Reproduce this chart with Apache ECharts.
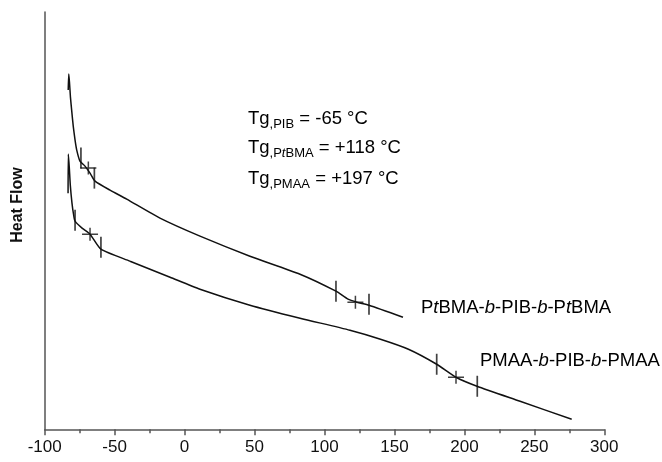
<!DOCTYPE html>
<html>
<head>
<meta charset="utf-8">
<script src="https://cdn.jsdelivr.net/npm/echarts@6/dist/echarts.min.js"></script>
<style>
  html, body { margin: 0; padding: 0; background: #fff; }
  #chart { width: 662px; height: 462px; }
</style>
</head>
<body>
<div id="chart"></div>
<script>
// temperature (°C) vs heat flow (arbitrary units)
const ptbmaCurve = [
  [-83.2, 339], [-82.8, 355], [-82.3, 347], [-81.6, 332], [-80.6, 317],
  [-79.6, 303], [-78.3, 289], [-77.1, 279], [-74.8, 268], [-71.2, 263],
  [-67.6, 256], [-64.0, 248], [-53.3, 239], [-41.4, 230], [-17.6, 211],
  [11.0, 193], [46.7, 173], [82.5, 155], [108.2, 138], [116.8, 130],
  [123.2, 127], [131.8, 124], [156.1, 112]
]
const pmaaCurve = [
  [-83.3, 236], [-83.1, 275], [-82.4, 261], [-81.7, 244], [-80.5, 226],
  [-79.4, 215], [-78.3, 208], [-73.3, 201], [-67.6, 195], [-59.8, 180],
  [-39.0, 168], [-10.4, 152], [11.0, 140], [46.7, 124], [82.5, 111],
  [118.2, 99], [140.0, 90], [160.0, 80], [180.2, 65], [194.0, 52],
  [209.0, 43], [239.8, 28], [276.7, 10]
]
// onset / end ticks and Tg crosses
const tickMarks = [
  [-74.1, 271], [-64.5, 251], [108.2, 138], [131.8, 125],
  [-78.3, 209], [-59.8, 182], [180.2, 65], [209.2, 43]
]
const tgMarks = [
  [-68.8, 261], [122.1, 127], [-67.6, 195], [194.0, 52]
]
const xTicks = { min: -100, max: 300, step: 50 }
const yRange = { min: 0, max: 417 }

const font = 'Liberation Sans, Arial, sans-serif'
const ink = '#111'

const chart = echarts.init(document.getElementById('chart'))

const mainTxt = { fontSize: 18.5, fontFamily: font, color: ink, lineHeight: 24 }
const subTxt = { fontSize: 13, fontFamily: font, color: ink, lineHeight: 10, verticalAlign: 'bottom' }
const subIt = Object.assign({}, subTxt, { fontStyle: 'italic' })
const it = Object.assign({}, mainTxt, { fontStyle: 'italic' })
const rich = { m: mainTxt, s: subTxt, si: subIt, i: it }

function txt(x, y, text, va) {
  return {
    type: 'text',
    x: x,
    y: y,
    style: { text: text, rich: rich, verticalAlign: va || 'top', align: 'left' }
  }
}

chart.setOption({
  animation: false,
  backgroundColor: '#fff',
  grid: { left: 44.7, right: 57.7, top: 12, bottom: 32.7 },
  xAxis: {
    type: 'value',
    min: xTicks.min,
    max: xTicks.max,
    interval: xTicks.step,
    axisLine: { show: true, onZero: false, lineStyle: { color: '#555', width: 1.5 } },
    axisTick: { show: true, length: 6, lineStyle: { color: '#555', width: 1.5 } },
    minorTick: { show: true, splitNumber: 2, length: 4, lineStyle: { color: '#555', width: 1.5 } },
    splitLine: { show: false },
    axisLabel: { fontSize: 17, fontFamily: font, color: ink, margin: 10 }
  },
  yAxis: {
    type: 'value',
    min: yRange.min,
    max: yRange.max,
    axisLine: { show: true, onZero: false, lineStyle: { color: '#555', width: 1.5 } },
    axisTick: { show: false },
    axisLabel: { show: false },
    splitLine: { show: false }
  },
  graphic: [
    {
      type: 'text',
      x: 18,
      y: 205,
      rotation: Math.PI / 2,
      style: {
        text: 'Heat Flow',
        fontSize: 16,
        fontWeight: 'bold',
        fontFamily: font,
        fill: ink,
        align: 'center',
        verticalAlign: 'middle'
      }
    },
    txt(248, 107, '{m|Tg}{s|,PIB}{m| = -65 °C}'),
    txt(248, 136, '{m|Tg}{s|,P}{si|t}{s|BMA}{m| = +118 °C}'),
    txt(248, 167, '{m|Tg}{s|,PMAA}{m| = +197 °C}'),
    txt(421, 308, '{m|P}{i|t}{m|BMA-}{i|b}{m|-PIB-}{i|b}{m|-P}{i|t}{m|BMA}', 'middle'),
    txt(480, 361, '{m|PMAA-}{i|b}{m|-PIB-}{i|b}{m|-PMAA}', 'middle')
  ],
  series: [
    {
      name: 'PtBMA-b-PIB-b-PtBMA',
      type: 'line',
      data: ptbmaCurve,
      showSymbol: false,
      smooth: 0.2,
      lineStyle: { color: ink, width: 1.5 }
    },
    {
      name: 'PMAA-b-PIB-b-PMAA',
      type: 'line',
      data: pmaaCurve,
      showSymbol: false,
      smooth: 0.2,
      lineStyle: { color: ink, width: 1.5 }
    },
    {
      type: 'scatter',
      data: tickMarks,
      symbol: 'rect',
      symbolSize: [1.7, 21],
      itemStyle: { color: ink },
      z: 3
    },
    {
      type: 'scatter',
      data: tgMarks,
      symbol: 'path://M0,5.75H16V7.25H0Z M7.25,0H8.75V13H7.25Z',
      symbolSize: [16, 13],
      itemStyle: { color: ink },
      z: 3
    }
  ]
})
</script>
</body>
</html>
